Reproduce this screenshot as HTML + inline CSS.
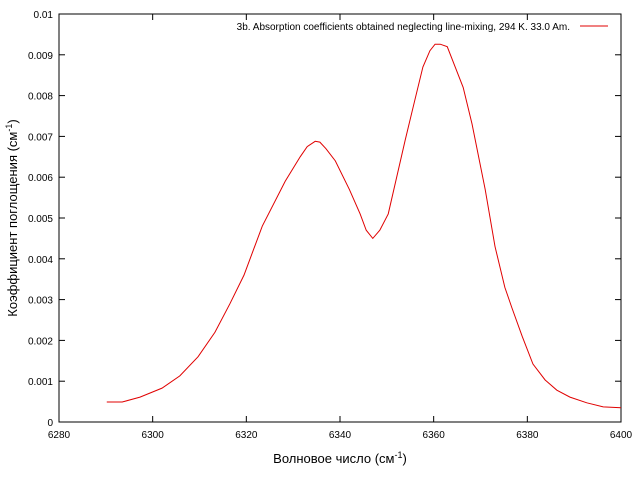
<!DOCTYPE html>
<html><head><meta charset="utf-8"><style>body{margin:0;background:#fff}svg{display:block;font-family:"Liberation Sans","DejaVu Sans",sans-serif}</style></head>
<body>
<svg id="chart" width="640" height="480" xmlns="http://www.w3.org/2000/svg"></svg>
<script>
const xTicks=[6280,6300,6320,6340,6360,6380,6400];
const yTicks=[0,0.001,0.002,0.003,0.004,0.005,0.006,0.007,0.008,0.009,0.01];
const yTickLabels=["0","0.001","0.002","0.003","0.004","0.005","0.006","0.007","0.008","0.009","0.01"];
const waveNumbers=[6290.2,6293.5,6297.3,6302,6305.8,6309.7,6313.3,6316.5,6319.5,6323.4,6328.3,6331.5,6333,6334.7,6335.7,6337,6339,6342,6344.3,6345.6,6347,6348.5,6350.3,6351.7,6353.9,6356,6357.7,6359.2,6360.3,6361.4,6362.9,6364.6,6366.3,6368.2,6371,6373.1,6375.2,6376.7,6378.9,6381.2,6383.8,6386.3,6389.1,6392.7,6396.2,6400];
const absorption=[0.00049,0.00049,0.00061,0.00083,0.00113,0.0016,0.0022,0.0029,0.0036,0.0048,0.0059,0.0065,0.00675,0.00688,0.00686,0.0067,0.0064,0.0057,0.0051,0.0047,0.0045,0.0047,0.0051,0.0058,0.0069,0.0079,0.0087,0.0091,0.00926,0.00926,0.0092,0.0087,0.0082,0.0073,0.0057,0.0043,0.0033,0.0028,0.0021,0.00142,0.00103,0.00078,0.00061,0.00047,0.00037,0.00035];
const L=59,R=621,T=14,B=422,NS="http://www.w3.org/2000/svg";
const sx=v=>L+(v-6280)/120*(R-L), sy=v=>B-v/0.01*(B-T);
const svg=document.getElementById('chart');
function mk(t,a,txt){const e=document.createElementNS(NS,t);for(const k in a)e.setAttribute(k,a[k]);if(txt!==undefined)e.textContent=txt;svg.appendChild(e);return e;}
xTicks.forEach(v=>{const x=sx(v);
 let e=mk('line',{x1:x,x2:x,y1:B,y2:B-6,stroke:'#000'});
 e=mk('line',{x1:x,x2:x,y1:T,y2:T+6,stroke:'#000'});
 e=mk('text',{x:x,y:B+16,'font-size':'10','text-anchor':'middle'},String(v));});
yTicks.forEach((v,i)=>{const y=sy(v);
 let e=mk('line',{x1:L,x2:L+6,y1:y,y2:y,stroke:'#000'});
 e=mk('line',{x1:R,x2:R-6,y1:y,y2:y,stroke:'#000'});
 e=mk('text',{x:L-6,y:y+4,'font-size':'10','text-anchor':'end'},yTickLabels[i]);});
let f=mk('rect',{x:L,y:T,width:R-L,height:B-T,fill:'none',stroke:'#000'});
let p=mk('polyline',{points:waveNumbers.map((w,i)=>sx(w)+','+sy(absorption[i])).join(' '),fill:'none',stroke:'#e00000','stroke-width':'1'});

let lt=mk('text',{x:570,y:30,'font-size':'10','text-anchor':'end'},'3b. Absorption coefficients obtained neglecting line-mixing, 294 K. 33.0 Am.');

let ll=mk('line',{x1:580,x2:608,y1:26,y2:26,stroke:'#e00000'});
let xt=mk('text',{x:340,y:463,'font-size':'13','text-anchor':'middle'});xt.innerHTML='Волновое число (см<tspan dy="-5" font-size="9">-1</tspan><tspan dy="5">)</tspan>';

let yt=mk('text',{x:0,y:0,'font-size':'13','text-anchor':'middle',transform:'translate(17,218) rotate(-90)'});yt.innerHTML='Коэффициент поглощения (см<tspan dy="-5" font-size="9">-1</tspan><tspan dy="5">)</tspan>';

</script>
</body></html>
